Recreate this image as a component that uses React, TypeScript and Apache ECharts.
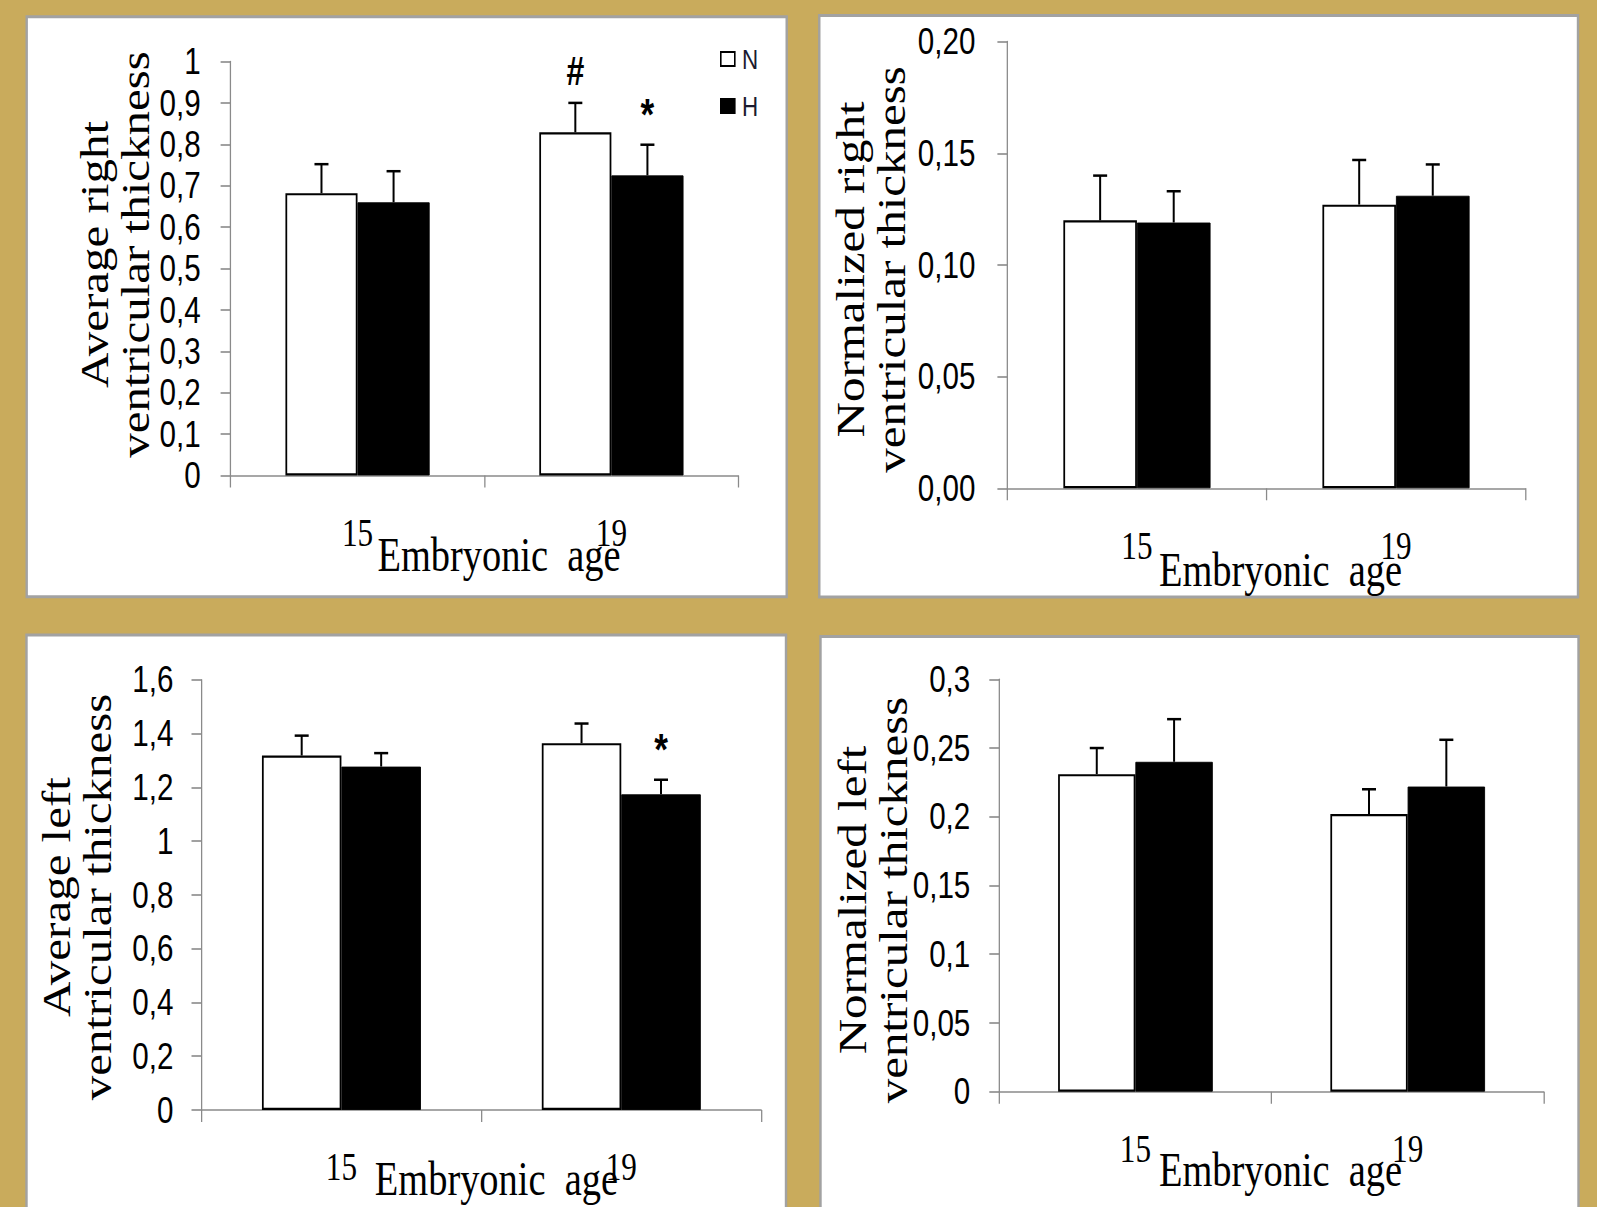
import React, { useEffect, useRef } from "react";
import * as echarts from "echarts";

// ---------------- data ----------------
const CATEGORIES = ["15", "19"];
const SERIES_NAMES = ["N", "H"];

// Average right ventricular thickness
const rvAvgN = [0.682, 0.829];
const rvAvgNsd = [0.07, 0.071];
const rvAvgH = [0.66, 0.725];
const rvAvgHsd = [0.075, 0.074];
const rvAvgMarkN = ["", "#"];
const rvAvgMarkH = ["", "*"];
const rvAvgTicks = [0, 0.1, 0.2, 0.3, 0.4, 0.5, 0.6, 0.7, 0.8, 0.9, 1];

// Normalized right ventricular thickness
const rvNormN = [0.12, 0.127];
const rvNormNsd = [0.02, 0.02];
const rvNormH = [0.119, 0.131];
const rvNormHsd = [0.014, 0.014];
const rvNormMarkN = ["", ""];
const rvNormMarkH = ["", ""];
const rvNormTicks = [0, 0.05, 0.1, 0.15, 0.2];

// Average left ventricular thickness
const lvAvgN = [1.318, 1.364];
const lvAvgNsd = [0.074, 0.073];
const lvAvgH = [1.277, 1.174];
const lvAvgHsd = [0.05, 0.054];
const lvAvgMarkN = ["", ""];
const lvAvgMarkH = ["", "*"];
const lvAvgTicks = [0, 0.2, 0.4, 0.6, 0.8, 1, 1.2, 1.4, 1.6];

// Normalized left ventricular thickness
const lvNormN = [0.231, 0.202];
const lvNormNsd = [0.019, 0.018];
const lvNormH = [0.24, 0.222];
const lvNormHsd = [0.031, 0.034];
const lvNormMarkN = ["", ""];
const lvNormMarkH = ["", ""];
const lvNormTicks = [0, 0.05, 0.1, 0.15, 0.2, 0.25, 0.3];

const Y_TITLES = [
  "Average right\nventricular thickness",
  "Normalized right\nventricular thickness",
  "Average left\nventricular thickness",
  "Normalized left\nventricular thickness",
];
const X_TITLE = "Embryonic\u00a0 age";

// ---------------- layout (page px) ----------------
const PAGE_W = 1597;
const PAGE_H = 1207;
const CHART_W = 1996;
const S = PAGE_W / CHART_W; // horizontal squeeze of the whole figure
const X = (px: number) => px / S;

const BAR_FRAC = 0.284;
const CAP = 14;

const GOLD = "#C9AB5C";

const panels = [
  {
    N: rvAvgN, Nsd: rvAvgNsd, H: rvAvgH, Hsd: rvAvgHsd, mN: rvAvgMarkN, mH: rvAvgMarkH,
    ticks: rvAvgTicks, fixed: 0,
    grid: { l: 230.6, t: 61.5, w: 507.7, h: 414 }, labelMargin: 30,
    box: { x: 26.7, y: 16.7, w: 760, h: 580 },
    yt: { x: 115, y: 254.5 }, xt: { x: 499, y: 554.5 },
  },
  {
    N: rvNormN, Nsd: rvNormNsd, H: rvNormH, Hsd: rvNormHsd, mN: rvNormMarkN, mH: rvNormMarkH,
    ticks: rvNormTicks, fixed: 2,
    grid: { l: 1007.4, t: 41.6, w: 518.1, h: 446.7 }, labelMargin: 32,
    box: { x: 819.3, y: 15.5, w: 758.7, h: 581.5 },
    yt: { x: 871, y: 269.5 }, xt: { x: 1280.5, y: 569 },
  },
  {
    N: lvAvgN, Nsd: lvAvgNsd, H: lvAvgH, Hsd: lvAvgHsd, mN: lvAvgMarkN, mH: lvAvgMarkH,
    ticks: lvAvgTicks, fixed: 0,
    grid: { l: 201.5, t: 679.7, w: 559.7, h: 430.3 }, labelMargin: 28,
    box: { x: 26.5, y: 635, w: 759.5, h: 600 },
    yt: { x: 77, y: 897 }, xt: { x: 496.4, y: 1178.4 },
  },
  {
    N: lvNormN, Nsd: lvNormNsd, H: lvNormH, Hsd: lvNormHsd, mN: lvNormMarkN, mH: lvNormMarkH,
    ticks: lvNormTicks, fixed: 0,
    grid: { l: 999.3, t: 679.3, w: 544.5, h: 412.4 }, labelMargin: 29,
    box: { x: 820.5, y: 636.5, w: 758, h: 600 },
    yt: { x: 873, y: 900 }, xt: { x: 1280.5, y: 1169.2 },
  },
];

const MARK_STYLE: Record<string, { size: number; lift: number }> = {
  "#": { size: 40, lift: 32 },
  "*": { size: 44, lift: 30 },
};

function fmtTick(v: number, fixed: number) {
  const s = fixed > 0 ? v.toFixed(fixed) : String(Math.round(v * 1000) / 1000);
  return s.replace(".", ",");
}

function buildOption() {
  const grid: any[] = [];
  const xAxis: any[] = [];
  const yAxis: any[] = [];
  const series: any[] = [];
  const elements: any[] = [];
  const axisColor = "#8a8a8a";

  panels.forEach((p, i) => {
    grid.push({ left: X(p.grid.l), top: p.grid.t, width: X(p.grid.w), height: p.grid.h });
    xAxis.push({
      type: "category",
      gridIndex: i,
      data: CATEGORIES,
      boundaryGap: true,
      axisLine: { show: true, lineStyle: { color: axisColor, width: 1.6 } },
      axisTick: { show: true, length: 12, lineStyle: { color: axisColor, width: 1.6 } },
      axisLabel: { fontFamily: "Liberation Serif", fontSize: 39, color: "#000", margin: 38, lineHeight: 39 },
      splitLine: { show: false },
    });
    const t = p.ticks;
    yAxis.push({
      type: "value",
      gridIndex: i,
      min: t[0],
      max: t[t.length - 1],
      interval: t[1] - t[0],
      axisLine: { show: true, lineStyle: { color: axisColor, width: 1.6 } },
      axisTick: { show: true, length: X(10), lineStyle: { color: axisColor, width: 1.6 } },
      axisLabel: {
        fontFamily: "Liberation Sans",
        fontSize: 37,
        color: "#000",
        margin: X(p.labelMargin),
        formatter: (v: number) => fmtTick(v, p.fixed),
      },
      splitLine: { show: false },
    });
    series.push({
      type: "bar",
      name: SERIES_NAMES[0],
      xAxisIndex: i,
      yAxisIndex: i,
      data: p.N,
      barWidth: BAR_FRAC * 100 + "%",
      barGap: "0%",
      itemStyle: { color: "#ffffff", borderColor: "#000", borderWidth: 2.2 },
      z: 2,
    });
    series.push({
      type: "bar",
      name: SERIES_NAMES[1],
      xAxisIndex: i,
      yAxisIndex: i,
      data: p.H,
      barWidth: BAR_FRAC * 100 + "%",
      barGap: "0%",
      itemStyle: { color: "#000000", borderColor: "#000", borderWidth: 1 },
      z: 2,
    });
    const errData: number[][] = [];
    const marks: string[] = [];
    p.N.forEach((v, k) => {
      errData.push([k, v, p.Nsd[k], 0]);
      marks.push(p.mN[k]);
    });
    p.H.forEach((v, k) => {
      errData.push([k, v, p.Hsd[k], 1]);
      marks.push(p.mH[k]);
    });
    series.push({
      type: "custom",
      name: "err" + i,
      xAxisIndex: i,
      yAxisIndex: i,
      data: errData,
      encode: { x: 0, y: 1 },
      z: 5,
      silent: true,
      renderItem: (params: any, api: any) => {
        const cat = api.value(0);
        const v = api.value(1);
        const sd = api.value(2);
        const g = api.value(3);
        const bw = api.size([1, 0])[0] * BAR_FRAC;
        const p0 = api.coord([cat, v]);
        const p1 = api.coord([cat, v + sd]);
        const x = p0[0] + (g === 0 ? -bw / 2 : bw / 2);
        const ls = { stroke: "#000", lineWidth: 2.5 };
        const children: any[] = [
          { type: "line", shape: { x1: x, y1: p0[1], x2: x, y2: p1[1] }, style: ls },
          { type: "line", shape: { x1: x - X(CAP) / 2, y1: p1[1], x2: x + X(CAP) / 2, y2: p1[1] }, style: ls },
        ];
        const m = marks[params.dataIndex];
        if (m) {
          const ms = MARK_STYLE[m] || { size: 34, lift: 30 };
          children.push({
            type: "text",
            x: x,
            y: p1[1] - ms.lift,
            style: {
              text: m,
              fontFamily: "Liberation Sans",
              fontWeight: "bold",
              fontSize: ms.size,
              fill: "#000",
              align: "center",
              verticalAlign: "middle",
            },
          });
        }
        return { type: "group", children };
      },
    });

    elements.push({
      type: "rect",
      z: -10,
      silent: true,
      shape: { x: X(p.box.x), y: p.box.y, width: X(p.box.w), height: p.box.h },
      style: { fill: "#ffffff", stroke: "#a2a2a2", lineWidth: 3 },
    });
    elements.push({
      type: "text",
      z: 10,
      silent: true,
      x: X(p.yt.x),
      y: p.yt.y,
      rotation: Math.PI / 2,
      style: {
        text: Y_TITLES[i],
        fontFamily: "Liberation Serif",
        fontSize: 49,
        lineHeight: 51,
        fill: "#000",
        align: "center",
        verticalAlign: "middle",
      },
    });
    elements.push({
      type: "text",
      z: 10,
      silent: true,
      x: X(p.xt.x),
      y: p.xt.y,
      style: {
        text: X_TITLE,
        fontFamily: "Liberation Serif",
        fontSize: 48,
        fill: "#000",
        align: "center",
        verticalAlign: "middle",
      },
    });
  });

  return {
    animation: false,
    backgroundColor: GOLD,
    grid,
    xAxis,
    yAxis,
    series,
    legend: {
      data: SERIES_NAMES,
      orient: "vertical",
      left: X(720),
      top: 45,
      padding: 0,
      itemWidth: X(14),
      itemHeight: 14,
      itemGap: 19,
      icon: "rect",
      selectedMode: false,
      textStyle: {
        fontFamily: "Liberation Sans",
        fontSize: 28,
        color: "#1a1a2e",
        padding: [0, 0, 0, 4],
      },
    },
    graphic: { elements },
  };
}

export default function App() {
  const ref = useRef<HTMLDivElement>(null);
  useEffect(() => {
    if (!ref.current) return;
    const chart = echarts.init(ref.current, null, { renderer: "svg" });
    chart.setOption(buildOption() as any);
    return () => chart.dispose();
  }, []);
  return (
    <div
      style={{
        position: "fixed",
        left: 0,
        top: 0,
        width: PAGE_W,
        height: PAGE_H,
        overflow: "hidden",
        background: GOLD,
      }}
    >
      <div
        ref={ref}
        style={{
          width: CHART_W,
          height: PAGE_H,
          transform: `scaleX(${S})`,
          transformOrigin: "0 0",
        }}
      />
    </div>
  );
}
